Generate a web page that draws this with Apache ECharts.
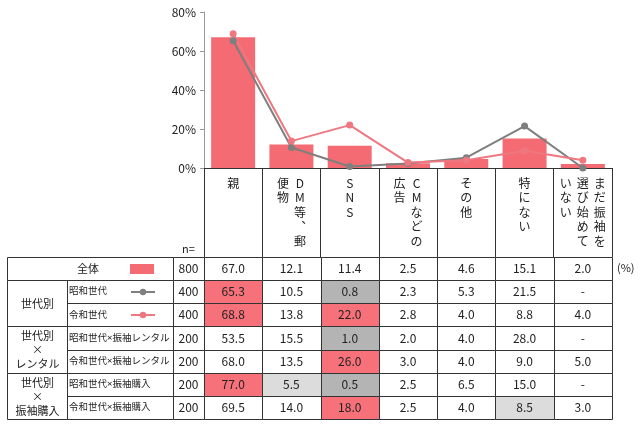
<!DOCTYPE html>
<html>
<head>
<meta charset="UTF-8">
<title>振袖 情報源</title>
<script src="https://cdn.jsdelivr.net/npm/echarts@6/dist/echarts.min.js"></script>
<style>
  html, body { margin: 0; padding: 0; background: #fff; }
  #main { width: 640px; height: 430px; }
</style>
</head>
<body>
<div id="main"></div>
<script>
// categories, and the same header split into vertical columns (right to left)
var categories = ['親', 'DM等、郵便物', 'SNS', 'CMなどの広告', 'その他', '特にない', 'まだ振袖を選び始めていない'];
var headerCols = [['親'], ['DM等︑郵', '便物'], ['SNS'], ['CMなどの', '広告'], ['その他'], ['特にない'], ['まだ振袖を', '選び始めて', 'いない']];

var rowNames = ['全体', '昭和世代', '令和世代', '昭和世代×振袖レンタル', '令和世代×振袖レンタル', '昭和世代×振袖購入', '令和世代×振袖購入'];
var rowN = [800, 400, 400, 200, 200, 200, 200];
var groupNames = ['世代別', '世代別\n×\nレンタル', '世代別\n×\n振袖購入'];
var groupFrom = [1, 3, 5];
var groupTo = [2, 4, 6];

// values in %, 0 is shown as '-'
var all         = [67.0, 12.1, 11.4, 2.5, 4.6, 15.1, 2.0];
var showa       = [65.3, 10.5, 0.8, 2.3, 5.3, 21.5, 0];
var reiwa       = [68.8, 13.8, 22.0, 2.8, 4.0, 8.8, 4.0];
var showaRental = [53.5, 15.5, 1.0, 2.0, 4.0, 28.0, 0];
var reiwaRental = [68.0, 13.5, 26.0, 3.0, 4.0, 9.0, 5.0];
var showaBuy    = [77.0, 5.5, 0.5, 2.5, 6.5, 15.0, 0];
var reiwaBuy    = [69.5, 14.0, 18.0, 2.5, 4.0, 8.5, 3.0];
var yTicks = [0, 20, 40, 60, 80];

// cell marks: h = high, l = low, m = slightly low, - = none
var marks = [
  '-------',
  'h-l----',
  'h-h----',
  '--l----',
  '--h----',
  'hml----',
  '--h--m-'
];

var tableRows = [all, showa, reiwa, showaRental, reiwaRental, showaBuy, reiwaBuy];

var PINK = '#F46B73';
var PINK_LINE = '#EE7780';
var GRAY_LINE = '#7F7F7F';
var BORDER = '#333';
var FONT = '"Noto Sans CJK JP", "Noto Sans", sans-serif';
var NAME_FONT = '"Noto Sans", "Noto Sans CJK JP", sans-serif';
var markColor = { h: '#F6717A', l: '#B4B4B4', m: '#DCDCDC' };

// left table part spans 0..197 on its own value axis
var LEFT_W = 197, NAME_X = 60, N_X = 166;

function headerLabel(value, idx) {
  var cols = headerCols[idx];
  var n = 0;
  cols.forEach(function (c) { n = Math.max(n, c.length); });
  var lines = [];
  for (var j = 0; j < n; j++) {
    var s = '';
    for (var c = cols.length - 1; c >= 0; c--) {
      var ch = cols[c].charAt(j) || '　';
      s += '{c|' + ch + '}';
    }
    lines.push(s);
  }
  return lines.join('\n');
}

function px(v) { return Math.round(v) + 0.5; }

var cellData = [];
tableRows.forEach(function (row, r) {
  row.forEach(function (v, c) {
    cellData.push([c, r, v, marks[r].charAt(c)]);
  });
});

var myChart = echarts.init(document.getElementById('main'));

function legendAt(name, top, h, icon) {
  return {
    data: [{ name: name, icon: icon }], left: 130, top: top, itemWidth: 24, itemHeight: h,
    formatter: function () { return ''; }, selectedMode: false, itemGap: 0, padding: 0
  };
}

var option = {
  animation: false,
  textStyle: { fontFamily: FONT },
  grid: [
    { left: 204, top: 12, width: 408, height: 156 },
    { left: 204, top: 257, width: 408, height: 162 },
    { left: 7, top: 257, width: 197, height: 162 }
  ],
  legend: [
    legendAt('全体', 264, 10, 'rect'),
    legendAt('昭和世代', 288, 8),
    legendAt('令和世代', 311, 8)
  ],
  xAxis: [
    {
      type: 'category', gridIndex: 0, data: categories,
      axisLine: { lineStyle: { color: BORDER, width: 1 } },
      axisTick: { show: true, length: 89, interval: 0, lineStyle: { color: BORDER } },
      axisLabel: {
        interval: 0, margin: 8, color: '#222',
        formatter: headerLabel,
        rich: { c: { width: 17, align: 'center', fontSize: 12, lineHeight: 14.5, fontFamily: FONT, color: '#222' } }
      }
    },
    { type: 'category', gridIndex: 1, data: categories, show: false },
    { type: 'value', gridIndex: 2, min: 0, max: LEFT_W, show: false }
  ],
  yAxis: [
    {
      type: 'value', gridIndex: 0, min: 0, max: 80, interval: 20,
      axisLine: { show: true, lineStyle: { color: '#999' } },
      axisTick: { show: true, length: 4, lineStyle: { color: '#999' } },
      splitLine: { show: false },
      axisLabel: { formatter: '{value}%', color: '#222', fontSize: 12, margin: 8 }
    },
    { type: 'category', gridIndex: 1, data: rowNames, inverse: true, show: false },
    { type: 'category', gridIndex: 2, data: rowNames, inverse: true, show: false }
  ],
  series: [
    {
      name: '全体', type: 'bar', xAxisIndex: 0, yAxisIndex: 0,
      data: all, barWidth: 44, itemStyle: { color: PINK }
    },
    {
      name: '昭和世代', type: 'line', xAxisIndex: 0, yAxisIndex: 0,
      data: showa, symbol: 'circle', symbolSize: 7,
      itemStyle: { color: GRAY_LINE }, lineStyle: { color: GRAY_LINE, width: 2 }
    },
    {
      name: '令和世代', type: 'line', xAxisIndex: 0, yAxisIndex: 0,
      data: reiwa, symbol: 'circle', symbolSize: 7,
      itemStyle: { color: PINK_LINE }, lineStyle: { color: PINK_LINE, width: 2 }
    },
    {
      // value cells
      type: 'custom', xAxisIndex: 1, yAxisIndex: 1, data: cellData, silent: true,
      renderItem: function (params, api) {
        var ctr = api.coord([api.value(0), api.value(1)]);
        var size = api.size([1, 1]);
        var x0 = px(ctr[0] - size[0] / 2), y0 = px(ctr[1] - size[1] / 2);
        var x1 = px(ctr[0] + size[0] / 2), y1 = px(ctr[1] + size[1] / 2);
        var d = cellData[params.dataIndex];
        var v = d[2];
        var fill = markColor[d[3]] || '#fff';
        return {
          type: 'group',
          children: [
            { type: 'rect', shape: { x: x0, y: y0, width: x1 - x0, height: y1 - y0 },
              style: { fill: fill, stroke: BORDER, lineWidth: 1 } },
            { type: 'text', x: ctr[0], y: ctr[1],
              style: { text: v === 0 ? '-' : v.toFixed(1), fill: '#222', font: '12px ' + FONT, align: 'center', verticalAlign: 'middle' } }
          ]
        };
      }
    },
    {
      // row name and n cells
      type: 'custom', xAxisIndex: 2, yAxisIndex: 2, silent: true,
      data: rowNames.map(function (name, i) { return [i]; }),
      renderItem: function (params, api) {
        var r = api.value(0);
        var band = api.size([0, 1])[1];
        var cy = api.coord([0, r])[1];
        var y0 = px(cy - band / 2), y1 = px(cy + band / 2);
        var xs = api.coord([r === 0 ? 0 : NAME_X, r])[0];
        var xn = api.coord([N_X, r])[0];
        var xe = api.coord([LEFT_W, r])[0];
        var kids = [
          { type: 'rect', shape: { x: px(xs), y: y0, width: px(xn) - px(xs), height: y1 - y0 },
            style: { fill: '#fff', stroke: BORDER, lineWidth: 1 } },
          { type: 'rect', shape: { x: px(xn), y: y0, width: px(xe) - px(xn), height: y1 - y0 },
            style: { fill: '#fff', stroke: BORDER, lineWidth: 1 } },
          { type: 'text', x: (xn + xe) / 2, y: cy,
            style: { text: String(rowN[r]), fill: '#222', font: '12px ' + FONT, align: 'center', verticalAlign: 'middle' } }
        ];
        if (r === 0) {
          kids.push({ type: 'text', x: api.coord([81, r])[0], y: cy,
            style: { text: rowNames[r], fill: '#222', font: '11px ' + FONT, align: 'center', verticalAlign: 'middle' } });
        } else {
          kids.push({ type: 'text', x: xs + 2, y: cy,
            style: { text: rowNames[r], fill: '#222', font: '9.5px ' + NAME_FONT, align: 'left', verticalAlign: 'middle' } });
        }
        return { type: 'group', children: kids };
      },
      z: 1
    },
    {
      // group cells
      type: 'custom', xAxisIndex: 2, yAxisIndex: 2, silent: true,
      data: groupNames.map(function (g, i) { return [groupFrom[i], groupTo[i]]; }),
      renderItem: function (params, api) {
        var band = api.size([0, 1])[1];
        var top = api.coord([0, api.value(0)]);
        var bot = api.coord([NAME_X, api.value(1)]);
        var y0 = px(top[1] - band / 2), y1 = px(bot[1] + band / 2);
        var x0 = px(top[0]), x1 = px(bot[0]);
        return {
          type: 'group',
          children: [
            { type: 'rect', shape: { x: x0, y: y0, width: x1 - x0, height: y1 - y0 },
              style: { fill: '#fff', stroke: BORDER, lineWidth: 1 } },
            { type: 'text', x: (x0 + x1) / 2, y: (y0 + y1) / 2,
              style: { text: groupNames[params.dataIndex], fill: '#222', font: '11px ' + FONT, align: 'center', verticalAlign: 'middle', lineHeight: 14 } }
          ]
        };
      }
    }
  ],
  graphic: [
    { type: 'text', left: 182, top: 243, style: { text: 'n=', fill: '#222', font: '11px ' + FONT } },
    { type: 'text', left: 617, top: 262, style: { text: '(%)', fill: '#222', font: '11px ' + FONT } }
  ]
};

myChart.setOption(option);
</script>
</body>
</html>
